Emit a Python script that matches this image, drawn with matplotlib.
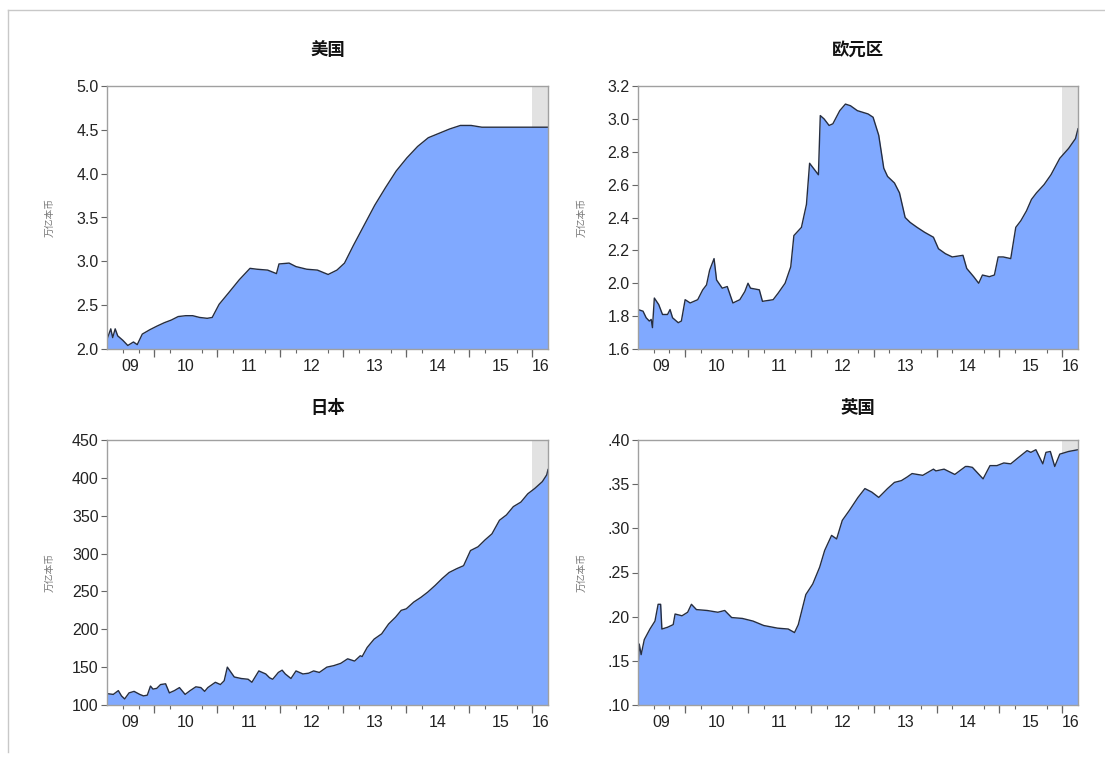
import matplotlib
matplotlib.use("Agg")
import matplotlib.pyplot as plt
from matplotlib.lines import Line2D
from matplotlib.ticker import FuncFormatter

plt.rcParams['font.family'] = ['Liberation Sans', 'Noto Sans CJK SC', 'DejaVu Sans']

# ---- central bank balance sheets (decimal year, trillions of local currency) ----
us_t = [2009.25, 2009.31, 2009.34, 2009.38, 2009.42, 2009.50, 2009.58, 2009.67, 2009.73,
        2009.81, 2009.93, 2010.04, 2010.16, 2010.27, 2010.38, 2010.50, 2010.61, 2010.72,
        2010.84, 2010.92, 2011.03, 2011.18, 2011.35, 2011.52, 2011.63, 2011.80, 2011.94,
        2011.98, 2012.14, 2012.25, 2012.42, 2012.59, 2012.76, 2012.90, 2013.02, 2013.16,
        2013.33, 2013.50, 2013.67, 2013.84, 2014.01, 2014.18, 2014.35, 2014.52, 2014.69,
        2014.86, 2015.03, 2015.20, 2015.37, 2015.60, 2015.82, 2016.05, 2016.25]
us_v = [2.11, 2.23, 2.13, 2.23, 2.15, 2.10, 2.04, 2.08, 2.05,
        2.17, 2.22, 2.26, 2.30, 2.33, 2.37, 2.38, 2.38, 2.36,
        2.35, 2.36, 2.51, 2.64, 2.79, 2.92, 2.91, 2.90, 2.86,
        2.97, 2.98, 2.94, 2.91, 2.90, 2.85, 2.90, 2.98, 3.18,
        3.41, 3.64, 3.84, 4.03, 4.18, 4.31, 4.41, 4.46, 4.51,
        4.55, 4.55, 4.53, 4.53, 4.53, 4.53, 4.53, 4.53]

ez_t = [2009.25, 2009.33, 2009.38, 2009.43, 2009.46, 2009.48, 2009.51, 2009.58, 2009.64,
        2009.72, 2009.76, 2009.80, 2009.89, 2009.94, 2010.00, 2010.08, 2010.20, 2010.28,
        2010.34, 2010.39, 2010.46, 2010.50, 2010.59, 2010.67, 2010.76, 2010.87, 2010.95,
        2011.00, 2011.04, 2011.18, 2011.23, 2011.40, 2011.48, 2011.59, 2011.68, 2011.73,
        2011.85, 2011.93, 2011.98, 2012.04, 2012.12, 2012.15, 2012.21, 2012.29, 2012.35,
        2012.46, 2012.55, 2012.63, 2012.74, 2012.91, 2012.99, 2013.08, 2013.16, 2013.22,
        2013.33, 2013.41, 2013.50, 2013.58, 2013.69, 2013.81, 2013.95, 2014.03, 2014.14,
        2014.25, 2014.42, 2014.48, 2014.59, 2014.67, 2014.73, 2014.84, 2014.92, 2014.98,
        2015.06, 2015.18, 2015.26, 2015.34, 2015.43, 2015.51, 2015.59, 2015.71, 2015.82,
        2015.96, 2016.10, 2016.21, 2016.25]
ez_v = [1.84, 1.83, 1.79, 1.77, 1.78, 1.73, 1.91, 1.87, 1.81,
        1.81, 1.84, 1.79, 1.76, 1.77, 1.90, 1.88, 1.90, 1.96,
        1.99, 2.08, 2.15, 2.02, 1.97, 1.98, 1.88, 1.90, 1.95,
        2.00, 1.97, 1.96, 1.89, 1.90, 1.94, 2.00, 2.10, 2.29,
        2.34, 2.48, 2.73, 2.70, 2.66, 3.02, 3.00, 2.96, 2.97,
        3.05, 3.09, 3.08, 3.05, 3.03, 3.01, 2.90, 2.70, 2.65,
        2.61, 2.55, 2.40, 2.37, 2.34, 2.31, 2.28, 2.21, 2.18,
        2.16, 2.17, 2.09, 2.04, 2.00, 2.05, 2.04, 2.05, 2.16,
        2.16, 2.15, 2.34, 2.38, 2.44, 2.51, 2.55, 2.60, 2.66,
        2.76, 2.82, 2.88, 2.94]

jp_t = [2009.25, 2009.35, 2009.43, 2009.48, 2009.53, 2009.60, 2009.68, 2009.77, 2009.83,
        2009.89, 2009.94, 2009.98, 2010.04, 2010.10, 2010.18, 2010.24, 2010.32, 2010.40,
        2010.49, 2010.57, 2010.66, 2010.74, 2010.80, 2010.85, 2010.97, 2011.05, 2011.11,
        2011.16, 2011.27, 2011.38, 2011.49, 2011.55, 2011.66, 2011.77, 2011.83, 2011.88,
        2011.97, 2012.03, 2012.08, 2012.17, 2012.25, 2012.36, 2012.45, 2012.53, 2012.62,
        2012.74, 2012.85, 2012.96, 2013.07, 2013.18, 2013.27, 2013.30, 2013.38, 2013.49,
        2013.61, 2013.72, 2013.83, 2013.92, 2014.00, 2014.12, 2014.23, 2014.34, 2014.46,
        2014.57, 2014.68, 2014.80, 2014.91, 2015.02, 2015.14, 2015.25, 2015.36, 2015.48,
        2015.59, 2015.70, 2015.82, 2015.93, 2016.04, 2016.16, 2016.23, 2016.25]
jp_v = [115, 114, 119, 112, 108, 116, 118, 114, 112,
        113, 125, 121, 122, 127, 128, 116, 119, 123,
        114, 119, 124, 123, 118, 123, 130, 127, 132,
        150, 137, 135, 134, 130, 145, 141, 136, 134,
        143, 146, 141, 135, 145, 141, 142, 145, 143,
        150, 152, 155, 161, 158, 165, 164, 176, 187,
        194, 207, 216, 225, 227, 236, 242, 249, 258,
        267, 275, 280, 284, 304, 309, 318, 326, 344,
        351, 362, 368, 379, 386, 395, 404, 411]

uk_t = [2009.25, 2009.27, 2009.30, 2009.35, 2009.44, 2009.52, 2009.57, 2009.61, 2009.63,
        2009.72, 2009.81, 2009.84, 2009.95, 2010.04, 2010.10, 2010.18, 2010.35, 2010.52,
        2010.63, 2010.74, 2010.91, 2011.08, 2011.25, 2011.47, 2011.64, 2011.74, 2011.80,
        2011.92, 2012.03, 2012.14, 2012.22, 2012.33, 2012.41, 2012.50, 2012.61, 2012.75,
        2012.86, 2012.97, 2013.08, 2013.22, 2013.33, 2013.44, 2013.53, 2013.61, 2013.78,
        2013.95, 2013.99, 2014.12, 2014.29, 2014.46, 2014.50, 2014.57, 2014.74, 2014.85,
        2014.96, 2015.07, 2015.18, 2015.30, 2015.44, 2015.50, 2015.58, 2015.69, 2015.74,
        2015.81, 2015.88, 2015.96, 2016.10, 2016.25]
uk_v = [0.142, 0.169, 0.157, 0.174, 0.186, 0.195, 0.214, 0.214, 0.186,
        0.188, 0.191, 0.203, 0.201, 0.205, 0.214, 0.208, 0.207, 0.205,
        0.207, 0.199, 0.198, 0.195, 0.190, 0.187, 0.186, 0.182, 0.191,
        0.225, 0.237, 0.256, 0.275, 0.292, 0.288, 0.309, 0.320, 0.335,
        0.345, 0.341, 0.335, 0.345, 0.352, 0.354, 0.358, 0.362, 0.360,
        0.367, 0.365, 0.367, 0.361, 0.370, 0.370, 0.369, 0.356, 0.371,
        0.371, 0.374, 0.373, 0.380, 0.388, 0.386, 0.389, 0.373, 0.386,
        0.387, 0.370, 0.384, 0.387, 0.389]

titles = ['美国', '欧元区', '日本', '英国']
unit_label = '万亿本币'
year_labels = ['09', '10', '11', '12', '13', '14', '15', '16']
year_label_pos = [2009.625, 2010.5, 2011.5, 2012.5, 2013.5, 2014.5, 2015.5, 2016.14]
year_bounds = [2010, 2011, 2012, 2013, 2014, 2015, 2016]
shade_start, x_start, x_end = 2016.0, 2009.25, 2016.25

panels = [
    dict(t=us_t, v=us_v, ylim=(2.0, 5.0), yticks=[2.0, 2.5, 3.0, 3.5, 4.0, 4.5, 5.0], fmt='{:.1f}'),
    dict(t=ez_t, v=ez_v, ylim=(1.6, 3.2), yticks=[1.6, 1.8, 2.0, 2.2, 2.4, 2.6, 2.8, 3.0, 3.2], fmt='{:.1f}'),
    dict(t=jp_t, v=jp_v, ylim=(100, 450), yticks=[100, 150, 200, 250, 300, 350, 400, 450], fmt='{:.0f}'),
    dict(t=uk_t, v=uk_v, ylim=(0.10, 0.40), yticks=[0.10, 0.15, 0.20, 0.25, 0.30, 0.35, 0.40], fmt='dot'),
]

W, H = 1105, 758
fig = plt.figure(figsize=(W / 100, H / 100), dpi=100)

# outer frame lines (top and left)
fig.add_artist(Line2D([8 / W, 1.0], [1 - 10 / H, 1 - 10 / H], color='#c8c8c8', lw=1))
fig.add_artist(Line2D([8 / W, 8 / W], [1 - 10 / H, 1 - 752 / H], color='#c8c8c8', lw=1))

# pixel boxes: left, right, top, bottom
boxes = [(107, 548, 86, 349), (638, 1078, 86, 349), (107, 548, 440, 705), (638, 1078, 440, 705)]
title_y = [50, 50, 408, 408]
ylab_x = [50, 582, 50, 582]

fill_color = '#80a9ff'
line_color = '#252d40'
spine_color = '#a0a0a0'

for i, (p, box) in enumerate(zip(panels, boxes)):
    l, r, t_, b = box
    ax = fig.add_axes([l / W, 1 - b / H, (r - l) / W, (b - t_) / H])
    ymin, ymax = p['ylim']
    ax.axvspan(shade_start, x_end, color='#e2e2e2', lw=0, zorder=0)
    ax.fill_between(p['t'], p['v'], ymin, color=fill_color, lw=0, zorder=1)
    ax.plot(p['t'], p['v'], color=line_color, lw=1.0, zorder=2)
    ax.set_xlim(x_start, x_end)
    ax.set_ylim(ymin, ymax)

    for s in ax.spines.values():
        s.set_color(spine_color)
        s.set_linewidth(1.0)

    ax.set_yticks(p['yticks'])
    if p['fmt'] == 'dot':
        ax.yaxis.set_major_formatter(FuncFormatter(lambda v, pos: ('{:.2f}'.format(v))[1:]))
    else:
        f = p['fmt']
        ax.yaxis.set_major_formatter(FuncFormatter(lambda v, pos, f=f: f.format(v)))
    ax.tick_params(axis='y', direction='out', length=4, width=0.8, color='#666666',
                   labelsize=11.5, labelcolor='#222222', pad=2)

    # year labels centred in each year, tick marks at year boundaries and quarters
    ax.set_xticks(year_label_pos)
    ax.set_xticklabels(year_labels)
    ax.tick_params(axis='x', which='major', length=0, labelsize=11.5, labelcolor='#222222', pad=7)
    quarters = [x_start + 0.25 * k for k in range(1, 28)]
    ax.set_xticks(quarters, minor=True)
    ax.tick_params(axis='x', which='minor', direction='out', length=3, width=0.8, color='#666666')
    sec = ax.secondary_xaxis('bottom')
    sec.set_xticks(year_bounds)
    sec.set_xticklabels([])
    sec.tick_params(direction='out', length=6, width=0.9, color='#666666')
    sec.spines['bottom'].set_visible(False)

    cx = (l + r) / 2 / W
    fig.text(cx, 1 - title_y[i] / H, titles[i], ha='center', va='center',
             fontsize=12.5, fontweight='bold', family=['Noto Sans CJK SC', 'DejaVu Sans'],
             color='#111111')
    fig.text(ylab_x[i] / W, 1 - (t_ + b) / 2 / H, unit_label, rotation=90, ha='center',
             va='center', fontsize=7, color='#777777', family=['Noto Sans CJK SC', 'DejaVu Sans'])

fig.savefig('out.png', dpi=100)
